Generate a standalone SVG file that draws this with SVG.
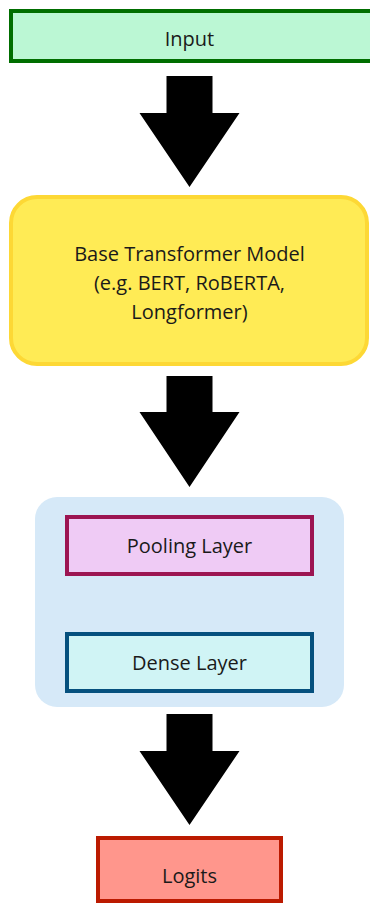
<svg xmlns="http://www.w3.org/2000/svg" width="370" height="905" viewBox="0 0 370 905">
  <style>
    text { font-family: "Open Sans", Lato, "Liberation Sans", sans-serif; font-size: 20px; fill: #1a1a1a; text-anchor: middle; dominant-baseline: central; }
    .arrow { fill: #000; }
  </style>
  <rect width="370" height="905" fill="#fff"/>

  <g id="input">
    <rect x="11" y="11" width="366" height="50" fill="#bbf7d4" stroke="#006e00" stroke-width="4"/>
    <text x="189.5" y="38">Input</text>
  </g>

  <g id="base-model">
    <rect x="11" y="197" width="356" height="167" rx="26" fill="#ffeb55" stroke="#fdd835" stroke-width="4"/>
    <text x="189.5" y="253">Base Transformer Model</text>
    <text x="189.5" y="282">(e.g. BERT, RoBERTA,</text>
    <text x="189.5" y="311">Longformer)</text>
  </g>

  <g id="head">
    <rect x="35" y="497" width="309" height="210" rx="22" fill="#d6e9f8"/>
    <g id="pooling">
      <rect x="67" y="517" width="245" height="57" fill="#efcbf5" stroke="#9c1552" stroke-width="4"/>
      <text x="189.5" y="545">Pooling Layer</text>
    </g>
    <g id="dense">
      <rect x="67" y="634" width="245" height="57" fill="#d0f4f5" stroke="#05507e" stroke-width="4"/>
      <text x="189.5" y="662">Dense Layer</text>
    </g>
  </g>

  <g id="logits">
    <rect x="98" y="838" width="183" height="63" fill="#ff968c" stroke="#bb1a00" stroke-width="4"/>
    <text x="189.5" y="875">Logits</text>
  </g>

  <g id="connectors">
    <polygon class="arrow" points="166.5,76 212.5,76 212.5,113 239.5,113 189.5,187 139.5,113 166.5,113"/>
    <polygon class="arrow" points="166.5,376 212.5,376 212.5,412 239.5,412 189.5,487 139.5,412 166.5,412"/>
    <polygon class="arrow" points="166.5,714 212.5,714 212.5,751 239.5,751 189.5,825 139.5,751 166.5,751"/>
  </g>
</svg>
